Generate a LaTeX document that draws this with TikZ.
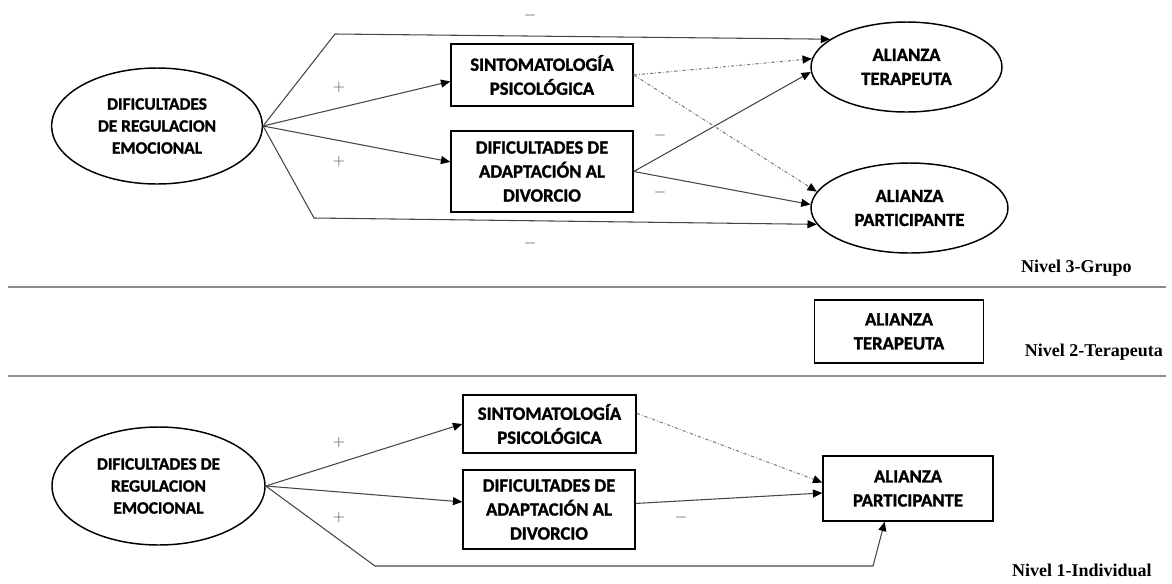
\documentclass[tikz,border=0pt]{standalone}
\usepackage{fontspec}
\newfontfamily\boxfont[FakeBold=1.4]{Carlito Bold}
\newfontfamily\levelfont{Liberation Serif}
\usetikzlibrary{arrows.meta,shapes.geometric}
\definecolor{linegray}{RGB}{70,70,70}
\definecolor{rulegray}{RGB}{140,140,140}
\definecolor{signgray}{RGB}{70,70,70}
\tikzset{
  varbox/.style={draw=black, line width=1.1pt, rectangle, align=center, inner sep=0pt,
    font=\boxfont\fontsize{14}{18}\selectfont},
  varoval/.style={varbox, ellipse},
  causeoval/.style={varoval, font=\boxfont\fontsize{13}{16.5}\selectfont},
  conn/.style={draw=linegray, line width=0.8pt, -{Triangle[length=7pt,width=6pt,color=black]}},
  indirect/.style={conn, draw=gray, dash pattern=on 2.5pt off 1.5pt on 0.6pt off 1.5pt},
  sign/.style={text=signgray, inner sep=0pt, font=\fontsize{12}{14}\selectfont},
  nivel/.style={anchor=east, inner sep=0pt, font=\levelfont\bfseries\fontsize{13.5}{16}\selectfont},
  levelrule/.style={draw=rulegray, line width=1.3pt}
}
\begin{document}
\begin{tikzpicture}[x=0.75pt,y=-0.75pt]
\useasboundingbox (0,0) rectangle (1172,583);

% Level 3: group
\node[causeoval, minimum width=158pt, minimum height=87pt] (dre3) at (157,126) {DIFICULTADES\\DE REGULACION\\EMOCIONAL};
\node[varbox, minimum width=136.5pt, minimum height=46.5pt] (sp3) at (542,75) {SINTOMATOLOGÍA\\PSICOLÓGICA};
\node[varbox, minimum width=136.5pt, minimum height=60.75pt] (da3) at (542,171.5) {DIFICULTADES DE\\ADAPTACIÓN AL\\DIVORCIO};
\node[varoval, minimum width=143.25pt, minimum height=67.5pt] (at3) at (906.5,67) {ALIANZA\\TERAPEUTA};
\node[varoval, minimum width=147.75pt, minimum height=67.5pt] (ap3) at (909.5,208) {ALIANZA\\PARTICIPANTE};
\coordinate (b1) at (335,34);
\coordinate (b2) at (314,218);

% Direct paths
\draw[conn] (dre3.east) -- (b1) -- (at3.160);
\draw[conn] (dre3.east) -- (b2) -- (ap3.190);
\draw[conn] (dre3.east) -- (sp3.184);
\draw[conn] (dre3.east) -- (da3.174);
\draw[conn] (da3.east) -- (at3.183);
\draw[conn] (da3.east) -- (ap3.178);

% Indirect paths
\draw[indirect] (sp3.east) -- (at3.175);
\draw[indirect] (sp3.east) -- (ap3.170);

% Signs
\node[sign] (s1) at (530,15) {$-$};
\node[sign] (s2) at (339,87) {$+$};
\node[sign] (s3) at (339,161) {$+$};
\node[sign] (s4) at (660,135) {$-$};
\node[sign] (s5) at (660,192) {$-$};
\node[sign] (s6) at (530,243) {$-$};
\node[nivel] (n3) at (1132,268) {Nivel 3-Grupo};

\draw[levelrule] (8,287) -- (1166,287);

% Level 2: therapist
\node[varbox, minimum width=126.75pt, minimum height=47.25pt] (at2) at (899,331.5) {ALIANZA\\TERAPEUTA};
\node[nivel] (n2) at (1163,352) {Nivel 2-Terapeuta};

\draw[levelrule] (8,376) -- (1166,376);

% Level 1: individual
\node[causeoval, minimum width=159.75pt, minimum height=88.5pt] (dre1) at (158.5,486) {DIFICULTADES DE\\REGULACION\\EMOCIONAL};
\node[varbox, minimum width=129.75pt, minimum height=43.5pt] (sp1) at (549.5,424) {SINTOMATOLOGÍA\\PSICOLÓGICA};
\node[varbox, minimum width=129pt, minimum height=59.25pt] (da1) at (549,509.5) {DIFICULTADES DE\\ADAPTACIÓN AL\\DIVORCIO};
\node[varbox, minimum width=127.5pt, minimum height=48.75pt] (ap1) at (908,488.5) {ALIANZA\\PARTICIPANTE};
\coordinate (b3) at (375,566);
\coordinate (b4) at (873,566);

\draw[conn] (dre1.east) -- (sp1.west);
\draw[conn] (dre1.east) -- (da1.175);
\draw[conn] (dre1.east) -- (b3) -- (b4) -- (ap1.235);
\draw[conn] (da1.4) -- (ap1.183);
\draw[indirect] (sp1.7) -- (ap1.176);

\node[sign] (s7) at (339,442) {$+$};
\node[sign] (s8) at (339,517) {$+$};
\node[sign] (s9) at (681,517) {$-$};
\node[nivel] (n1) at (1152,570) {Nivel 1-Individual};
\end{tikzpicture}
\end{document}
